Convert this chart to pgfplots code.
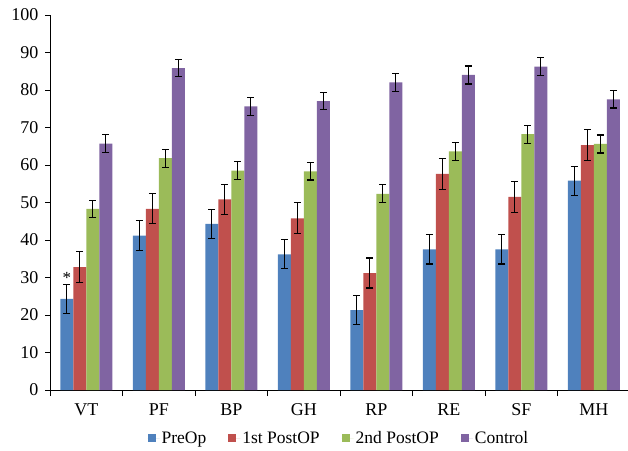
\documentclass[border=0pt]{standalone}
\usepackage{fontspec}
\setmainfont{Liberation Serif}
\usepackage{pgfplots}
\usepackage{pgfplotstable}
\pgfplotsset{compat=1.18}
\definecolor{cPre}{HTML}{4F81BD}
\definecolor{cFirst}{HTML}{C0504D}
\definecolor{cSecond}{HTML}{9BBB59}
\definecolor{cCtrl}{HTML}{8064A2}
\pgfplotstableread{
x y e
0 24.3 3.9
1 41.2 3.9
2 44.3 3.9
3 36.2 3.9
4 21.3 3.9
5 37.5 3.9
6 37.5 3.9
7 55.8 3.9
}\preop
\pgfplotstableread{
x y e
0 32.8 4.2
1 48.3 4.0
2 50.8 4.1
3 45.8 4.1
4 31.2 4.0
5 57.6 4.1
6 51.5 4.2
7 65.3 4.1
}\first
\pgfplotstableread{
x y e
0 48.3 2.3
1 61.8 2.4
2 58.5 2.4
3 58.3 2.3
4 52.3 2.4
5 63.6 2.4
6 68.2 2.4
7 65.6 2.4
}\second
\pgfplotstableread{
x y e
0 65.7 2.4
1 85.8 2.3
2 75.6 2.4
3 77.0 2.3
4 82.0 2.4
5 84.0 2.4
6 86.2 2.4
7 77.5 2.3
}\control
\begin{document}
\begin{tikzpicture}
\useasboundingbox (0,0) rectangle (628pt,450pt);
\begin{axis}[
  at={(50pt,60pt)}, anchor=south west,
  scale only axis, width=578pt, height=375pt,
  ybar=0pt, bar width=13pt,
  xmin=-0.5, xmax=7.47, ymin=0, ymax=100,
  axis lines*=left,
  axis line style={black, line width=0.9pt},
  ytick={0,10,...,100},
  xtick={0,...,7},
  xticklabels={VT,PF,BP,GH,RP,RE,SF,MH},
  minor xtick={-0.5,0.5,...,6.5},
  tick align=outside,
  major tick length=5pt,
  x tick style={draw=none},
  minor x tick style={draw=black, line width=0.9pt},
  minor tick length=6pt,
  y tick style={black, line width=0.9pt},
  ytick pos=left, xtick pos=bottom,
  /pgf/number format/assume math mode=true,
  tick label style={font=\fontsize{18}{21}\selectfont},
  yticklabel style={xshift=-3pt},
  xticklabel style={yshift=-5pt},
  legend style={at={(0.5,-0.128)}, anchor=center, draw=none, legend columns=4,
    font=\fontsize{17.5}{20}\selectfont,
    /tikz/every even column/.append style={column sep=20pt}},
  legend image code/.code={\fill[#1] (0pt,-3.5pt) rectangle (8pt,4.5pt); \path (0pt,0pt) -- (12pt,0pt);},
  error bars/y dir=both, error bars/y explicit,
  error bars/error bar style={black, line width=1.1pt},
  error bars/error mark options={black, rotate=90, mark size=3.5pt, line width=1.1pt},
]
\addplot[fill=cPre, draw=none] table[x=x, y=y, y error=e]{\preop};
\addplot[fill=cFirst, draw=none] table[x=x, y=y, y error=e]{\first};
\addplot[fill=cSecond, draw=none] table[x=x, y=y, y error=e]{\second};
\addplot[fill=cCtrl, draw=none] table[x=x, y=y, y error=e]{\control};
\legend{PreOp, 1st PostOP, 2nd PostOP, Control}
\node[font=\fontsize{17}{20}\selectfont] at (axis cs:0,30.0) [xshift=-19.5pt] {*};
\end{axis}
\end{tikzpicture}
\end{document}
